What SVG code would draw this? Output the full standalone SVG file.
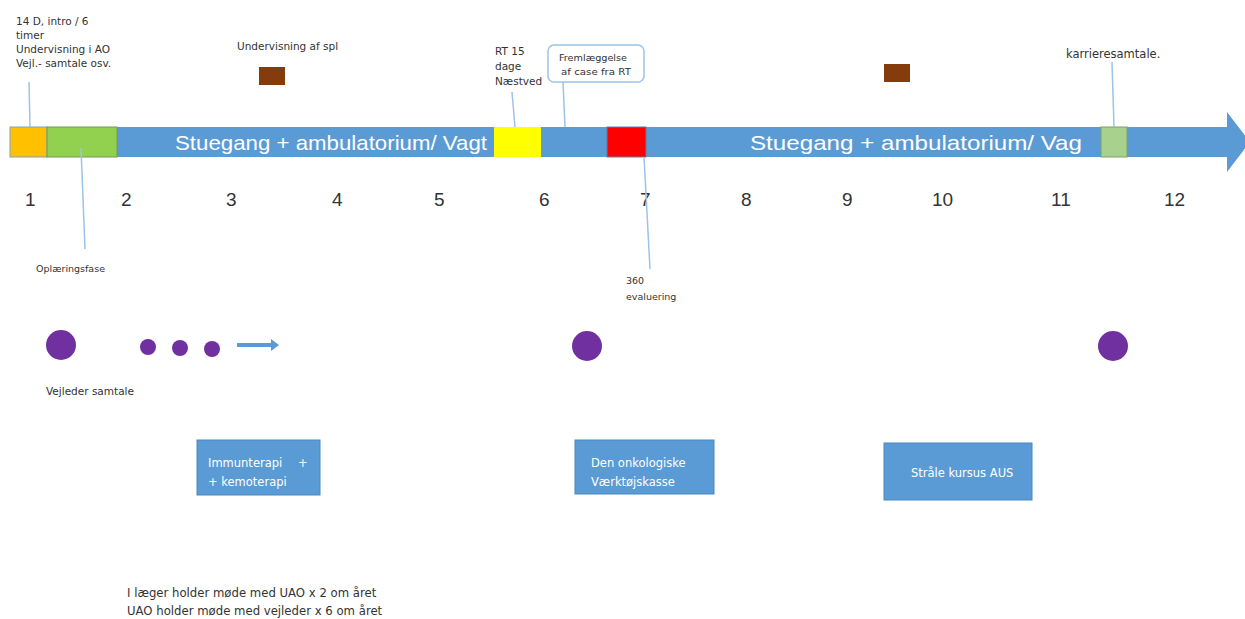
<svg xmlns="http://www.w3.org/2000/svg" width="1245" height="619" viewBox="0 0 1245 619">
<style>
.t{font-family:"DejaVu Sans","Liberation Sans",sans-serif;fill:#333;font-size:10.5px}
.s{font-size:9.5px}
.n{font-family:"Liberation Sans",Arial,sans-serif;fill:#333;font-size:19px}
.w{font-family:"Liberation Sans",Arial,sans-serif;fill:#fff;font-size:21px}
.bw{font-family:"DejaVu Sans","Liberation Sans",sans-serif;fill:#fff;font-size:11.5px}
.ln{stroke:#9DC3E6;stroke-width:1.5;fill:none}
.box{fill:#5B9BD5;stroke:#4A88C2;stroke-width:1}
.dot{fill:#7030A0}
.br{fill:#843C0C}
</style>
<rect width="1245" height="619" fill="#fff"/>
<g id="timeline">
<path d="M10,127 H1227 V112 L1250,142 L1227,172 V157 H10 Z" fill="#5B9BD5"/>
<rect x="10" y="127" width="37" height="30" fill="#FFC000" stroke="#7F9FBF" stroke-width="1"/>
<rect x="47" y="127" width="70" height="30" fill="#92D050" stroke="#6F9F4F" stroke-width="1"/>
<rect x="494" y="127" width="47" height="30" fill="#FFFF00"/>
<rect x="607" y="127" width="39" height="30" fill="#FF0000" stroke="#5B7FA5" stroke-width="1"/>
<rect x="1101" y="127" width="26" height="30" fill="#A9D18E" stroke="#7FA06A" stroke-width="1"/>
<text class="w" x="175" y="150" textLength="312" lengthAdjust="spacingAndGlyphs">Stuegang + ambulatorium/ Vagt</text>
<text class="w" x="750" y="150" textLength="332" lengthAdjust="spacingAndGlyphs">Stuegang + ambulatorium/ Vag</text>
</g>
<g id="numbers">
<text class="n" x="25" y="206">1</text>
<text class="n" x="121" y="206">2</text>
<text class="n" x="226" y="206">3</text>
<text class="n" x="332" y="206">4</text>
<text class="n" x="434" y="206">5</text>
<text class="n" x="539" y="206">6</text>
<text class="n" x="640" y="206">7</text>
<text class="n" x="741" y="206">8</text>
<text class="n" x="842" y="206">9</text>
<text class="n" x="932" y="206">10</text>
<text class="n" x="1051" y="206">11</text>
<text class="n" x="1164" y="206">12</text>
</g>
<g id="connectors">
<line class="ln" x1="29" y1="82" x2="30" y2="127"/>
<line class="ln" x1="81" y1="148" x2="85" y2="249"/>
<line class="ln" x1="512" y1="92" x2="515" y2="127"/>
<line class="ln" x1="563" y1="82" x2="565" y2="127"/>
<line class="ln" x1="644" y1="157" x2="650" y2="269"/>
<line class="ln" x1="1112" y1="62" x2="1114" y2="127"/>
</g>
<g id="intro">
<text class="t" x="16" y="25">14 D, intro / 6</text>
<text class="t" x="16" y="39">timer</text>
<text class="t" x="16" y="53">Undervisning i AO</text>
<text class="t" x="16" y="67">Vejl.- samtale osv.</text>
</g>
<g id="spl">
<text class="t" x="237" y="50">Undervisning af spl</text>
<rect class="br" x="259" y="67" width="26" height="18"/>
</g>
<rect id="brown2" class="br" x="884" y="64" width="26" height="18"/>
<g id="rt">
<text class="t" x="495" y="55">RT 15</text>
<text class="t" x="495" y="70">dage</text>
<text class="t" x="495" y="85">Næstved</text>
</g>
<g id="fremlaeggelse">
<rect x="548" y="45" width="96" height="37" rx="6" fill="#fff" stroke="#9DC3E6" stroke-width="1.5"/>
<text class="t s" x="559" y="61" textLength="68" lengthAdjust="spacingAndGlyphs">Fremlæggelse</text>
<text class="t s" x="561" y="75" textLength="70" lengthAdjust="spacingAndGlyphs">af case fra RT</text>
</g>
<text id="karriere" class="t" x="1066" y="58" style="font-size:11.5px">karrieresamtale.</text>
<text id="oplaering" class="t s" x="36" y="272">Oplæringsfase</text>
<g id="eval360">
<text class="t s" x="626" y="284">360</text>
<text class="t s" x="626" y="300">evaluering</text>
</g>
<g id="vejleder">
<circle class="dot" cx="61" cy="345" r="15"/>
<circle class="dot" cx="148" cy="347" r="8"/>
<circle class="dot" cx="180" cy="348" r="8"/>
<circle class="dot" cx="212" cy="349" r="8"/>
<path d="M237,343 H271 V339 L279,345 L271,351 V347 H237 Z" fill="#5B9BD5"/>
<circle class="dot" cx="587" cy="346" r="15"/>
<circle class="dot" cx="1113" cy="346" r="15"/>
<text class="t" x="46" y="395">Vejleder samtale</text>
</g>
<g id="immun">
<rect class="box" x="197" y="440" width="123" height="55"/>
<text class="bw" x="208" y="467">Immunterapi</text>
<text class="bw" x="298" y="467">+</text>
<text class="bw" x="208" y="486">+ kemoterapi</text>
</g>
<g id="onko">
<rect class="box" x="575" y="440" width="139" height="54"/>
<text class="bw" x="591" y="467">Den onkologiske</text>
<text class="bw" x="591" y="486">Værktøjskasse</text>
</g>
<g id="straale">
<rect class="box" x="884" y="443" width="148" height="57"/>
<text class="bw" x="911" y="477">Stråle kursus AUS</text>
</g>
<g id="note">
<text class="t" x="127" y="597" style="font-size:11.7px">I læger holder møde med UAO x 2 om året</text>
<text class="t" x="127" y="615" style="font-size:11.7px">UAO holder møde med vejleder x 6 om året</text>
</g>
</svg>
